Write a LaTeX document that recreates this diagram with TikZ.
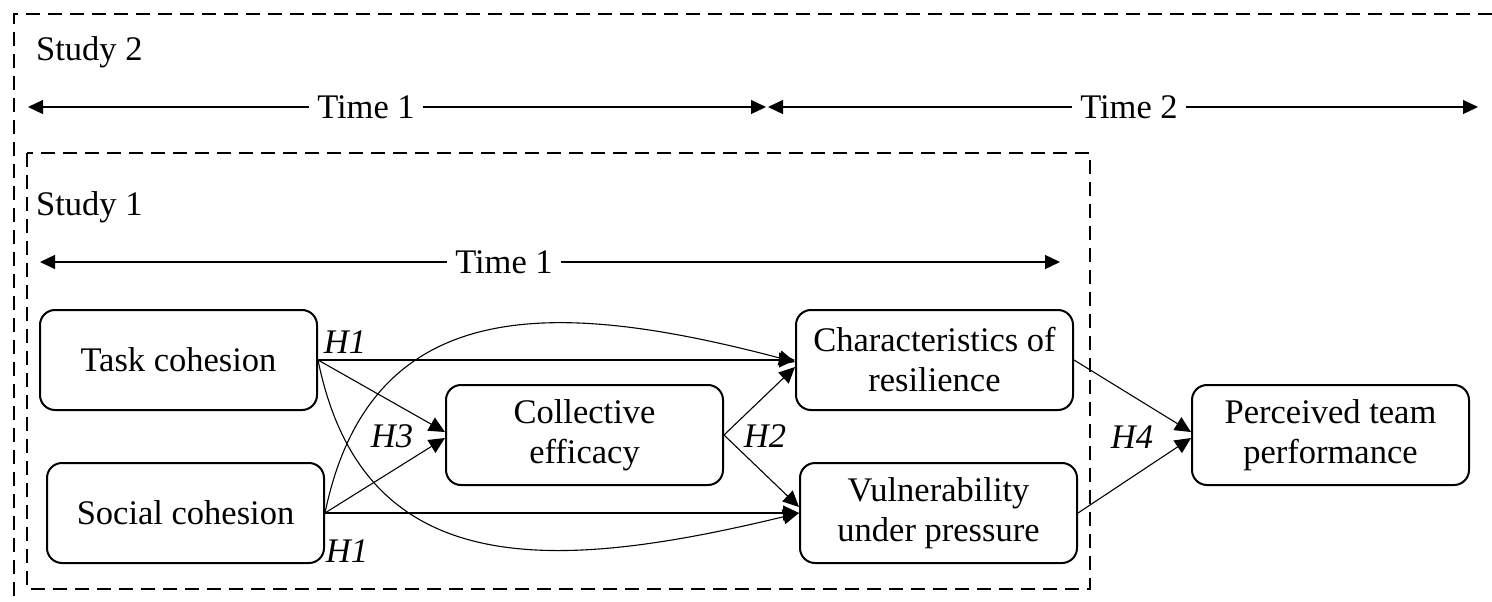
\documentclass[tikz,border=0pt]{standalone}
\usepackage{fontspec}
\setmainfont{Liberation Serif}
\usetikzlibrary{arrows.meta}
\newcommand{\labfont}{\fontsize{34.5}{40}\selectfont}
\begin{document}
\begin{tikzpicture}[x=1pt,y=-1pt,
  every node/.append style={font=\labfont},
  box/.style={draw, line width=2pt, rounded corners=15pt, minimum width=277pt,
    minimum height=100pt, align=center, inner sep=0pt},
  link/.style={line width=1.1pt, -{Triangle[length=16pt,width=15pt]}},
  span/.style={line width=1.3pt, -{Triangle[length=15pt,width=14pt]}},
  hlab/.style={font=\labfont\itshape, inner sep=0pt},
  frame/.style={line width=2pt, dash pattern=on 14pt off 8pt},
  timelab/.style={inner sep=8pt}]
\useasboundingbox (0,0) rectangle (1492,602);
\clip (0,0) rectangle (1492,602);

% study frames
\draw[frame] (14,640) -- (14,14) -- (1530,14);
\draw[frame] (27,153) rectangle (1090,589);
\node[anchor=base west, inner sep=0pt] (s2) at (36,61) {Study 2};
\node[anchor=base west, inner sep=0pt] (s1) at (36,215) {Study 1};

% time spans
\node[timelab] (s2t1) at (366,107) {Time 1};
\coordinate (s2t1a) at (28,107);
\coordinate (s2t1b) at (766,107);
\draw[span] (s2t1.west) -- (s2t1a);
\draw[span] (s2t1.east) -- (s2t1b);
\node[timelab] (s2t2) at (1129,107) {Time 2};
\coordinate (s2t2a) at (768,107);
\coordinate (s2t2b) at (1478,107);
\draw[span] (s2t2.west) -- (s2t2a);
\draw[span] (s2t2.east) -- (s2t2b);
\node[timelab] (s1t1) at (504,262) {Time 1};
\coordinate (s1t1a) at (40,262);
\coordinate (s1t1b) at (1060,262);
\draw[span] (s1t1.west) -- (s1t1a);
\draw[span] (s1t1.east) -- (s1t1b);

% constructs
\node[box] (task) at (178.5,360) {Task cohesion};
\node[box] (soc)  at (185.5,513) {Social cohesion};
\node[box] (coll) at (584.5,435) {Collective\\efficacy};
\node[box] (char) at (934.5,360) {Characteristics of\\resilience};
\node[box] (vuln) at (938.5,513) {Vulnerability\\under pressure};
\node[box] (perc) at (1330.5,435) {Perceived team\\performance};

% paths
\draw[link] (task.east) -- (char.west);
\draw[link] (task.east) -- ([yshift=3pt]coll.west);
\draw[link] (soc.east) -- ([yshift=-3pt]coll.west);
\draw[link] (soc.east) -- (vuln.west);
\draw[link] (soc.east) .. controls +(46,-223) and +(-236,-62) .. ([yshift=-2pt]char.west);
\draw[link] (task.east) .. controls +(45,222) and +(-248,60) .. (vuln.west);
\draw[link] (coll.east) -- ([yshift=-7pt]char.west);
\draw[link] (coll.east) -- ([yshift=6pt]vuln.west);
\draw[link] (char.east) -- ([yshift=3pt]perc.west);
\draw[link] (vuln.east) -- ([yshift=-3pt]perc.west);

% hypotheses
\node[hlab] (h1a) at (345,342) {H1};
\node[hlab] (h1b) at (347,551) {H1};
\node[hlab] (h3) at (392,436) {H3};
\node[hlab] (h2) at (765,436) {H2};
\node[hlab] (h4) at (1132,437) {H4};
\end{tikzpicture}
\end{document}
